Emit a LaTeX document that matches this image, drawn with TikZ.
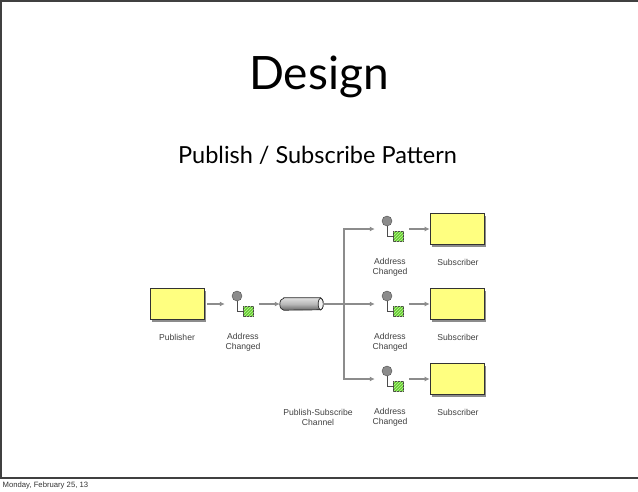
\documentclass[tikz,border=0pt]{standalone}
\usepackage{fontspec}
\usepackage{tikz}
\usetikzlibrary{shadows}
\usetikzlibrary{patterns}
\usetikzlibrary{arrows.meta}
\newfontfamily\titlefont{Lato}
\newfontfamily\labelfont{Liberation Sans}
\definecolor{boxyellow}{RGB}{255,255,128}
\definecolor{taggreen}{RGB}{102,204,51}
\definecolor{tagstripe}{RGB}{190,245,150}
\definecolor{flowgray}{RGB}{140,140,140}
\newcommand{\evt}[3]{\node[evtbox] (#1) at ( #2 , #3 ) {};
  \node[dot] (#1d) at ([xshift=-5pt,yshift=8pt]#1.center) {};
  \node[tag] (#1t) at ([xshift=6.5pt,yshift=-7pt]#1.center) {};
  \draw[wire] (#1d.south) |- (#1t.west);}
\newcommand{\lbl}[3]{\node[caption] at ( #1 , #2 ) {#3};}

\begin{document}
\begin{tikzpicture}[x=1pt, y=-1pt,
    box/.style={rectangle, draw=black!80, line width=0.6pt, fill=boxyellow,
      minimum width=54pt, minimum height=31pt, inner sep=0pt,
      drop shadow={shadow xshift=2pt, shadow yshift=-2pt, fill=black!45, opacity=1}},
    evtbox/.style={rectangle, minimum width=34pt, minimum height=28pt, inner sep=0pt},
    dot/.style={circle, draw=black!70, fill=black!45, minimum size=10pt, inner sep=0pt},
    tag/.style={rectangle, draw=black!75, fill=taggreen, minimum size=10pt, inner sep=0pt,
      postaction={pattern=north east lines, pattern color=tagstripe}},
    wire/.style={draw=black!70, line width=0.6pt},
    pipebox/.style={rectangle, minimum width=43pt, minimum height=12pt, inner sep=0pt},
    pipe/.style={draw=black!85, line width=0.7pt,
      top color=black!12, bottom color=black!60, middle color=black!28},
    flow/.style={draw=flowgray, line width=1.2pt, -{Latex[length=5pt,width=5pt]}},
    caption/.style={font=\labelfont\fontsize{8.6}{10.5}\selectfont, text=black!75, align=center}]
    \useasboundingbox (0,0) rectangle (638,491);
    % frame
    \draw[black!75, line width=1.6pt] (638,0.8) -- (0.8,0.8) -- (0.8,478) -- (638,478);
    % titles
    \node[font=\titlefont\fontsize{46}{50}\selectfont, anchor=base, inner sep=0pt] (title) at (319,89) {Design};
    \node[font=\titlefont\fontsize{23.5}{28}\selectfont, anchor=base, inner sep=0pt] (sub) at (317.5,163) {Publish / Subscribe Pattern};
    \node[font=\labelfont\fontsize{7.7}{9}\selectfont, text=black!80, anchor=base west, inner sep=0pt] (date) at (2.5,487) {Monday, February 25, 13};
    % publisher side
    \node[box] (pub) at (177,304) {};
    \evt{pmsg}{242}{304}
    \node[pipebox] (chan) at (301.5,304) {};
    \draw[pipe] ([xshift=4pt]chan.north west) -- ([xshift=-2.5pt]chan.north east)
      arc[start angle=90, end angle=-90, x radius=2.5pt, y radius=6pt]
      -- ([xshift=4pt]chan.south west)
      arc[start angle=270, end angle=90, x radius=4pt, y radius=6pt] -- cycle;
    \draw[black!85, line width=0.7pt, fill=black!5] ([xshift=-2.5pt]chan.east) ellipse[x radius=2.5pt, y radius=6pt];
    \coordinate (fork) at (344,304);
    % subscribers
    \evt{m1}{392}{229}
    \evt{m2}{392}{304}
    \evt{m3}{392}{379}
    \node[box] (s1) at (457,229) {};
    \node[box] (s2) at (457,304) {};
    \node[box] (s3) at (457,379) {};
    % connectors
    \draw[flow, shorten <=3pt] (pub) -- (pmsg);
    \draw[flow] (pmsg) -- (chan);
    \draw[draw=flowgray, line width=1.2pt] (chan) -- (fork);
    \draw[flow] (fork) -- (m2);
    \draw[flow] (fork) |- (m1);
    \draw[flow] (fork) |- (m3);
    \draw[flow] (m1) -- (s1);
    \draw[flow] (m2) -- (s2);
    \draw[flow] (m3) -- (s3);
    % labels
    \lbl{177}{337}{Publisher}
    \lbl{243}{342.5}{Address\\Changed}
    \lbl{318}{417.5}{Publish-Subscribe\\Channel}
    \lbl{390}{267.5}{Address\\Changed}
    \lbl{390}{342.5}{Address\\Changed}
    \lbl{390}{417.5}{Address\\Changed}
    \lbl{458}{262}{Subscriber}
    \lbl{458}{337}{Subscriber}
    \lbl{458}{412}{Subscriber}
\end{tikzpicture}
\end{document}
